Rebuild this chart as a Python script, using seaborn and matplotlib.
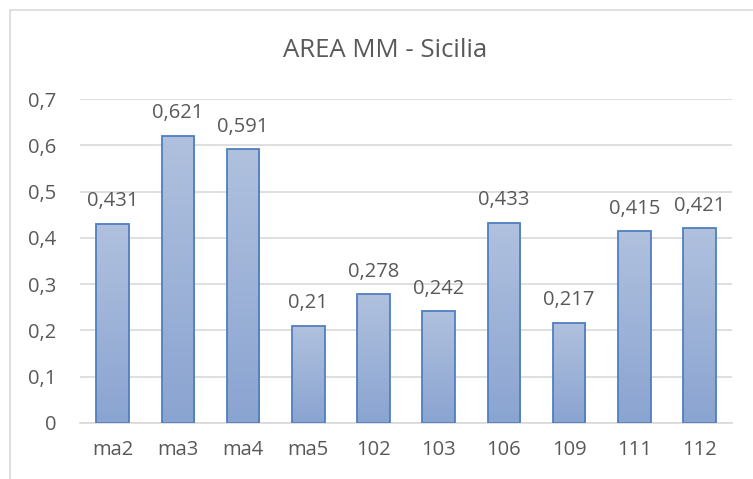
import numpy as np
import pandas as pd
import matplotlib
matplotlib.use("Agg")
import matplotlib.pyplot as plt
from matplotlib.lines import Line2D
from matplotlib.colors import LinearSegmentedColormap
import seaborn as sns

categories = ["ma2", "ma3", "ma4", "ma5", "102", "103", "106", "109", "111", "112"]
values = [0.431, 0.621, 0.591, 0.21, 0.278, 0.242, 0.433, 0.217, 0.415, 0.421]
yticks = [0, 0.1, 0.2, 0.3, 0.4, 0.5, 0.6, 0.7]

sns.set_theme(style="white")
plt.rcParams["font.family"] = ["Open Sans", "DejaVu Sans"]

df = pd.DataFrame({"cat": categories, "val": values})

fig = plt.figure(figsize=(7.53, 4.79), dpi=100)
ax = fig.add_axes([80 / 753, 1 - 423 / 479, 652 / 753, 324 / 479])

sns.barplot(data=df, x="cat", y="val", ax=ax, width=0.5,
            color="#9db1d8", edgecolor="#4f7fbf", linewidth=1.3, zorder=3)

# vertical gradient fill for each bar
grad = LinearSegmentedColormap.from_list("g", ["#8aa4d1", "#b0c1de"])
for p in ax.patches:
    x0, y0 = p.get_x(), p.get_y()
    w, h = p.get_width(), p.get_height()
    img = ax.imshow(np.linspace(0, 1, 256).reshape(-1, 1), cmap=grad,
                    origin="lower", aspect="auto",
                    extent=[x0, x0 + w, y0, y0 + h], zorder=2.5)
    img.set_clip_path(p)
    p.set_facecolor("none")

ax.set_xlim(-0.5, len(categories) - 0.5)
ax.set_ylim(0, 0.7)
ax.set_yticks(yticks)
ax.set_yticklabels([("%g" % t).replace(".", ",") for t in yticks])
ax.yaxis.grid(True, color="#d9d9d9", linewidth=1.2, zorder=0)
ax.set_axisbelow(True)
for s in ["top", "right", "left"]:
    ax.spines[s].set_visible(False)
ax.spines["bottom"].set_color("#d9d9d9")
ax.spines["bottom"].set_linewidth(1.2)
ax.tick_params(axis="both", length=0, labelsize=14.5, labelcolor="#595959")
ax.tick_params(axis="y", pad=17)
ax.tick_params(axis="x", pad=12)
ax.set_xlabel("")
ax.set_ylabel("")

for i, v in enumerate(values):
    ax.annotate(("%g" % v).replace(".", ","), (i, v), xytext=(0, 12.5),
                textcoords="offset points", ha="center", va="baseline",
                fontsize=14.5, color="#595959")

fig.text(385 / 753, 1 - 57 / 479, "AREA MM - Sicilia", ha="center",
         va="baseline", fontsize=18.5, color="#595959")

# chart frame (top and left edges)
fx, fy = 9.5 / 753, 1 - 9.5 / 479
fig.add_artist(Line2D([fx, 1.0], [fy, fy], transform=fig.transFigure,
                      color="#d9d9d9", linewidth=1.2))
fig.add_artist(Line2D([fx, fx], [0.0, fy], transform=fig.transFigure,
                      color="#d9d9d9", linewidth=1.2))

fig.savefig("out.png", dpi=100)
